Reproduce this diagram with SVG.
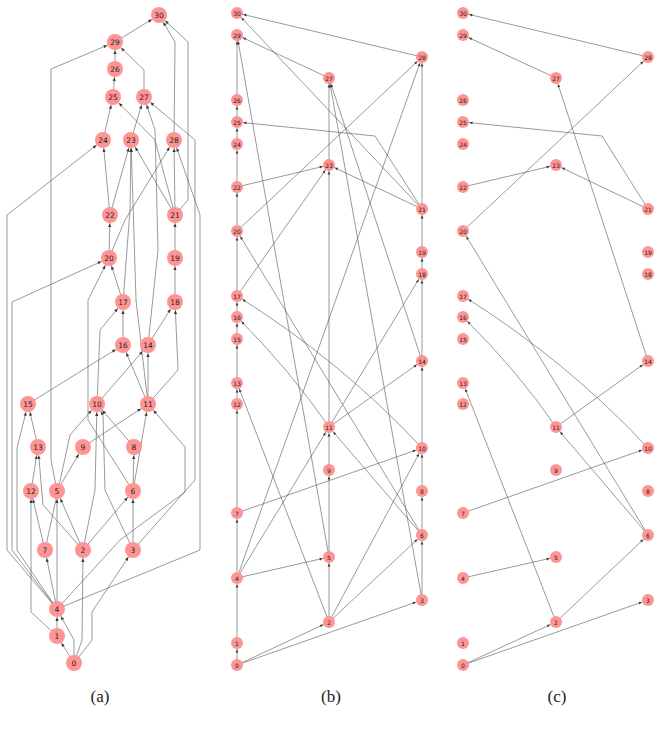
<svg xmlns="http://www.w3.org/2000/svg" width="660" height="738" viewBox="0 0 660 738">
<style>
.e{fill:none;stroke:#555;stroke-width:0.6}
.ea{marker-end:url(#ma)}
.eb{marker-end:url(#mb)}
.na circle{fill:#ff9494}
.nb circle{fill:#ff9494}
.na text{font-family:"DejaVu Sans",sans-serif;font-size:7.5px;fill:#222;text-anchor:middle;dominant-baseline:central}
.nb text{font-family:"DejaVu Sans",sans-serif;font-size:6px;fill:#222;text-anchor:middle;dominant-baseline:central}
.cap{font-family:"Liberation Serif",serif;font-size:17px;fill:#222;text-anchor:middle}
</style>
<defs>
<marker id="ma" markerUnits="userSpaceOnUse" markerWidth="1" markerHeight="1" orient="auto" overflow="visible"><path d="M-8.5,0 L-12,-1.6 L-12,1.6 z" fill="#333"/></marker>
<marker id="mb" markerUnits="userSpaceOnUse" markerWidth="1" markerHeight="1" orient="auto" overflow="visible"><path d="M-6.5,0 L-9.5,-1.4 L-9.5,1.4 z" fill="#333"/></marker>
</defs>
<rect width="660" height="738" fill="#fff"/>
<g id="connectors-a">
<polyline class="e ea" points="74,663 57,636"/>
<polyline class="e ea" points="74,663 74,640 57,609"/>
<polyline class="e ea" points="74,663 82,640 83,550"/>
<polyline class="e ea" points="74,663 92,640 92,612 133,550"/>
<polyline class="e ea" points="57,636 57,609"/>
<polyline class="e ea" points="57,636 31,612 31,491"/>
<polyline class="e ea" points="57,609 45,550"/>
<polyline class="e ea" points="57,609 57,491"/>
<polyline class="e ea" points="57,609 7,550 7,215 103,140"/>
<polyline class="e ea" points="57,609 12,550 12,302 109,258"/>
<polyline class="e ea" points="57,609 17,550 17,448 28,404"/>
<polyline class="e ea" points="57,609 120,540 185,492 185,447 148,404"/>
<polyline class="e ea" points="57,609 200,550 200,215 174,140"/>
<polyline class="e ea" points="83,550 57,491"/>
<polyline class="e ea" points="83,550 43,505 38,447"/>
<polyline class="e ea" points="83,550 95,490 97,404"/>
<polyline class="e ea" points="83,550 133,491"/>
<polyline class="e ea" points="133,550 133,491"/>
<polyline class="e ea" points="133,550 195,480 195,140 144,97"/>
<polyline class="e ea" points="133,550 105,490 103,415 97,404"/>
<polyline class="e ea" points="57,491 51,460 51,69 115,42"/>
<polyline class="e ea" points="57,491 83,447"/>
<polyline class="e ea" points="83,447 148,404"/>
<polyline class="e ea" points="133,491 134,447"/>
<polyline class="e ea" points="134,447 97,404"/>
<polyline class="e ea" points="133,491 148,404"/>
<polyline class="e ea" points="133,491 88,420 88,300 109,258"/>
<polyline class="e ea" points="45,550 31,491"/>
<polyline class="e ea" points="45,550 70,435 97,404"/>
<polyline class="e ea" points="31,491 38,447"/>
<polyline class="e ea" points="38,447 28,404"/>
<polyline class="e ea" points="28,404 123,345"/>
<polyline class="e ea" points="97,404 148,345"/>
<polyline class="e ea" points="97,404 100,330 123,302"/>
<polyline class="e ea" points="148,404 123,345"/>
<polyline class="e ea" points="148,404 148,345"/>
<polyline class="e ea" points="148,404 178,370 175,302"/>
<polyline class="e ea" points="148,404 136,300 131,140"/>
<polyline class="e ea" points="123,345 123,302"/>
<polyline class="e ea" points="148,345 158,250 155,130 144,97"/>
<polyline class="e ea" points="148,345 175,302"/>
<polyline class="e ea" points="175,302 175,258"/>
<polyline class="e ea" points="175,258 175,215"/>
<polyline class="e ea" points="123,302 109,258"/>
<polyline class="e ea" points="123,302 130,210 131,140"/>
<polyline class="e ea" points="109,258 110,215"/>
<polyline class="e ea" points="109,258 125,220 174,140"/>
<polyline class="e ea" points="110,215 103,140"/>
<polyline class="e ea" points="110,215 131,140"/>
<polyline class="e ea" points="175,215 174,140"/>
<polyline class="e ea" points="175,215 131,140"/>
<polyline class="e ea" points="175,215 155,140 113,97"/>
<polyline class="e ea" points="175,215 188,200 188,42 159,15"/>
<polyline class="e ea" points="174,140 175,42 159,15"/>
<polyline class="e ea" points="103,140 113,97"/>
<polyline class="e ea" points="131,140 144,97"/>
<polyline class="e ea" points="113,97 115,69"/>
<polyline class="e ea" points="115,69 115,42"/>
<polyline class="e ea" points="144,97 144,70 115,42"/>
<polyline class="e ea" points="115,42 159,15"/>
</g>
<g id="connectors-b">
<polyline class="e eb" points="237,665 237,643"/>
<polyline class="e eb" points="237,665 329,622"/>
<polyline class="e eb" points="237,665 422,600"/>
<polyline class="e eb" points="237,643 237,578"/>
<polyline class="e eb" points="237,578 237,513"/>
<polyline class="e eb" points="237,578 329,557"/>
<polyline class="e eb" points="237,578 329,427"/>
<polyline class="e eb" points="237,578 422,57"/>
<polyline class="e eb" points="329,622 329,557"/>
<polyline class="e eb" points="329,622 237,383"/>
<polyline class="e eb" points="329,622 422,448"/>
<polyline class="e eb" points="329,622 422,535"/>
<polyline class="e eb" points="422,600 422,535"/>
<polyline class="e eb" points="422,600 329,78"/>
<polyline class="e eb" points="329,557 237,35"/>
<polyline class="e eb" points="329,557 329,470"/>
<polyline class="e eb" points="329,470 329,427"/>
<polyline class="e eb" points="422,535 422,491"/>
<polyline class="e eb" points="422,491 422,448"/>
<polyline class="e eb" points="422,448 422,361"/>
<polyline class="e eb" points="422,361 422,274"/>
<polyline class="e eb" points="422,274 422,252"/>
<polyline class="e eb" points="422,252 422,209"/>
<polyline class="e eb" points="422,209 422,57"/>
<polyline class="e eb" points="422,209 329,165"/>
<polyline class="e eb" points="422,209 375,136 237,122"/>
<polyline class="e eb" points="422,209 237,13"/>
<polyline class="e eb" points="422,57 237,13"/>
<polyline class="e eb" points="329,78 237,35"/>
<polyline class="e eb" points="237,100 237,35"/>
<polyline class="e eb" points="237,122 237,100"/>
<polyline class="e eb" points="237,144 237,122"/>
<polyline class="e eb" points="237,187 237,144"/>
<polyline class="e eb" points="237,187 329,165"/>
<polyline class="e eb" points="237,231 237,187"/>
<polyline class="e eb" points="237,231 422,57"/>
<polyline class="e eb" points="237,296 237,231"/>
<polyline class="e eb" points="237,296 329,165"/>
<polyline class="e eb" points="237,317 237,296"/>
<polyline class="e eb" points="237,339 237,317"/>
<polyline class="e eb" points="237,383 237,339"/>
<polyline class="e eb" points="237,404 237,383"/>
<polyline class="e eb" points="237,513 237,404"/>
<polyline class="e eb" points="237,513 422,448"/>
<polyline class="e eb" points="329,427 329,165"/>
<polyline class="e eb" points="329,427 422,274"/>
<polyline class="e eb" points="329,427 422,361"/>
<path class="e eb" d="M329,427 Q290,370 237,317"/>
<path class="e eb" d="M422,448 Q340,360 237,296"/>
<polyline class="e eb" points="422,535 329,427"/>
<polyline class="e eb" points="422,535 237,231"/>
<polyline class="e eb" points="422,361 329,78"/>
<polyline class="e eb" points="329,165 329,78"/>
</g>
<g id="connectors-c">
<polyline class="e eb" points="463,665 556,622"/>
<polyline class="e eb" points="463,665 648,600"/>
<polyline class="e eb" points="463,578 556,557"/>
<polyline class="e eb" points="556,622 463,383"/>
<polyline class="e eb" points="556,622 648,535"/>
<polyline class="e eb" points="648,535 556,427"/>
<polyline class="e eb" points="648,535 463,231"/>
<polyline class="e eb" points="463,513 648,448"/>
<polyline class="e eb" points="556,427 648,361"/>
<path class="e eb" d="M556,427 Q517,370 463,317"/>
<path class="e eb" d="M648,448 Q566,360 463,296"/>
<polyline class="e eb" points="648,361 556,78"/>
<polyline class="e eb" points="648,209 556,165"/>
<polyline class="e eb" points="648,209 602,136 463,122"/>
<polyline class="e eb" points="463,187 556,165"/>
<polyline class="e eb" points="463,231 648,57"/>
<polyline class="e eb" points="556,78 463,35"/>
<polyline class="e eb" points="648,57 463,13"/>
</g>
<g id="nodes-a" class="na">
<g id="a0"><circle cx="74" cy="663" r="8"/><text x="74" y="663">0</text></g>
<g id="a1"><circle cx="57" cy="636" r="8"/><text x="57" y="636">1</text></g>
<g id="a4"><circle cx="57" cy="609" r="8"/><text x="57" y="609">4</text></g>
<g id="a7"><circle cx="45" cy="550" r="8"/><text x="45" y="550">7</text></g>
<g id="a2"><circle cx="83" cy="550" r="8"/><text x="83" y="550">2</text></g>
<g id="a3"><circle cx="133" cy="550" r="8"/><text x="133" y="550">3</text></g>
<g id="a12"><circle cx="31" cy="491" r="8"/><text x="31" y="491">12</text></g>
<g id="a5"><circle cx="57" cy="491" r="8"/><text x="57" y="491">5</text></g>
<g id="a6"><circle cx="133" cy="491" r="8"/><text x="133" y="491">6</text></g>
<g id="a13"><circle cx="38" cy="447" r="8"/><text x="38" y="447">13</text></g>
<g id="a9"><circle cx="83" cy="447" r="8"/><text x="83" y="447">9</text></g>
<g id="a8"><circle cx="134" cy="447" r="8"/><text x="134" y="447">8</text></g>
<g id="a15"><circle cx="28" cy="404" r="8"/><text x="28" y="404">15</text></g>
<g id="a10"><circle cx="97" cy="404" r="8"/><text x="97" y="404">10</text></g>
<g id="a11"><circle cx="148" cy="404" r="8"/><text x="148" y="404">11</text></g>
<g id="a16"><circle cx="123" cy="345" r="8"/><text x="123" y="345">16</text></g>
<g id="a14"><circle cx="148" cy="345" r="8"/><text x="148" y="345">14</text></g>
<g id="a17"><circle cx="123" cy="302" r="8"/><text x="123" y="302">17</text></g>
<g id="a18"><circle cx="175" cy="302" r="8"/><text x="175" y="302">18</text></g>
<g id="a20"><circle cx="109" cy="258" r="8"/><text x="109" y="258">20</text></g>
<g id="a19"><circle cx="175" cy="258" r="8"/><text x="175" y="258">19</text></g>
<g id="a22"><circle cx="110" cy="215" r="8"/><text x="110" y="215">22</text></g>
<g id="a21"><circle cx="175" cy="215" r="8"/><text x="175" y="215">21</text></g>
<g id="a24"><circle cx="103" cy="140" r="8"/><text x="103" y="140">24</text></g>
<g id="a23"><circle cx="131" cy="140" r="8"/><text x="131" y="140">23</text></g>
<g id="a28"><circle cx="174" cy="140" r="8"/><text x="174" y="140">28</text></g>
<g id="a25"><circle cx="113" cy="97" r="8"/><text x="113" y="97">25</text></g>
<g id="a27"><circle cx="144" cy="97" r="8"/><text x="144" y="97">27</text></g>
<g id="a26"><circle cx="115" cy="69" r="8"/><text x="115" y="69">26</text></g>
<g id="a29"><circle cx="115" cy="42" r="8"/><text x="115" y="42">29</text></g>
<g id="a30"><circle cx="159" cy="15" r="8"/><text x="159" y="15">30</text></g>
</g>
<g id="nodes-b" class="nb">
<g id="b30"><circle cx="237" cy="13" r="6"/><text x="237" y="13">30</text></g>
<g id="b29"><circle cx="237" cy="35" r="6"/><text x="237" y="35">29</text></g>
<g id="b28"><circle cx="422" cy="57" r="6"/><text x="422" y="57">28</text></g>
<g id="b27"><circle cx="329" cy="78" r="6"/><text x="329" y="78">27</text></g>
<g id="b26"><circle cx="237" cy="100" r="6"/><text x="237" y="100">26</text></g>
<g id="b25"><circle cx="237" cy="122" r="6"/><text x="237" y="122">25</text></g>
<g id="b24"><circle cx="237" cy="144" r="6"/><text x="237" y="144">24</text></g>
<g id="b23"><circle cx="329" cy="165" r="6"/><text x="329" y="165">23</text></g>
<g id="b22"><circle cx="237" cy="187" r="6"/><text x="237" y="187">22</text></g>
<g id="b21"><circle cx="422" cy="209" r="6"/><text x="422" y="209">21</text></g>
<g id="b20"><circle cx="237" cy="231" r="6"/><text x="237" y="231">20</text></g>
<g id="b19"><circle cx="422" cy="252" r="6"/><text x="422" y="252">19</text></g>
<g id="b18"><circle cx="422" cy="274" r="6"/><text x="422" y="274">18</text></g>
<g id="b17"><circle cx="237" cy="296" r="6"/><text x="237" y="296">17</text></g>
<g id="b16"><circle cx="237" cy="317" r="6"/><text x="237" y="317">16</text></g>
<g id="b15"><circle cx="237" cy="339" r="6"/><text x="237" y="339">15</text></g>
<g id="b14"><circle cx="422" cy="361" r="6"/><text x="422" y="361">14</text></g>
<g id="b13"><circle cx="237" cy="383" r="6"/><text x="237" y="383">13</text></g>
<g id="b12"><circle cx="237" cy="404" r="6"/><text x="237" y="404">12</text></g>
<g id="b11"><circle cx="329" cy="427" r="6"/><text x="329" y="427">11</text></g>
<g id="b10"><circle cx="422" cy="448" r="6"/><text x="422" y="448">10</text></g>
<g id="b9"><circle cx="329" cy="470" r="6"/><text x="329" y="470">9</text></g>
<g id="b8"><circle cx="422" cy="491" r="6"/><text x="422" y="491">8</text></g>
<g id="b7"><circle cx="237" cy="513" r="6"/><text x="237" y="513">7</text></g>
<g id="b6"><circle cx="422" cy="535" r="6"/><text x="422" y="535">6</text></g>
<g id="b5"><circle cx="329" cy="557" r="6"/><text x="329" y="557">5</text></g>
<g id="b4"><circle cx="237" cy="578" r="6"/><text x="237" y="578">4</text></g>
<g id="b3"><circle cx="422" cy="600" r="6"/><text x="422" y="600">3</text></g>
<g id="b2"><circle cx="329" cy="622" r="6"/><text x="329" y="622">2</text></g>
<g id="b1"><circle cx="237" cy="643" r="6"/><text x="237" y="643">1</text></g>
<g id="b0"><circle cx="237" cy="665" r="6"/><text x="237" y="665">0</text></g>
</g>
<g id="nodes-c" class="nb">
<g id="c30"><circle cx="463" cy="13" r="6"/><text x="463" y="13">30</text></g>
<g id="c29"><circle cx="463" cy="35" r="6"/><text x="463" y="35">29</text></g>
<g id="c28"><circle cx="648" cy="57" r="6"/><text x="648" y="57">28</text></g>
<g id="c27"><circle cx="556" cy="78" r="6"/><text x="556" y="78">27</text></g>
<g id="c26"><circle cx="463" cy="100" r="6"/><text x="463" y="100">26</text></g>
<g id="c25"><circle cx="463" cy="122" r="6"/><text x="463" y="122">25</text></g>
<g id="c24"><circle cx="463" cy="144" r="6"/><text x="463" y="144">24</text></g>
<g id="c23"><circle cx="556" cy="165" r="6"/><text x="556" y="165">23</text></g>
<g id="c22"><circle cx="463" cy="187" r="6"/><text x="463" y="187">22</text></g>
<g id="c21"><circle cx="648" cy="209" r="6"/><text x="648" y="209">21</text></g>
<g id="c20"><circle cx="463" cy="231" r="6"/><text x="463" y="231">20</text></g>
<g id="c19"><circle cx="648" cy="252" r="6"/><text x="648" y="252">19</text></g>
<g id="c18"><circle cx="648" cy="274" r="6"/><text x="648" y="274">18</text></g>
<g id="c17"><circle cx="463" cy="296" r="6"/><text x="463" y="296">17</text></g>
<g id="c16"><circle cx="463" cy="317" r="6"/><text x="463" y="317">16</text></g>
<g id="c15"><circle cx="463" cy="339" r="6"/><text x="463" y="339">15</text></g>
<g id="c14"><circle cx="648" cy="361" r="6"/><text x="648" y="361">14</text></g>
<g id="c13"><circle cx="463" cy="383" r="6"/><text x="463" y="383">13</text></g>
<g id="c12"><circle cx="463" cy="404" r="6"/><text x="463" y="404">12</text></g>
<g id="c11"><circle cx="556" cy="427" r="6"/><text x="556" y="427">11</text></g>
<g id="c10"><circle cx="648" cy="448" r="6"/><text x="648" y="448">10</text></g>
<g id="c9"><circle cx="556" cy="470" r="6"/><text x="556" y="470">9</text></g>
<g id="c8"><circle cx="648" cy="491" r="6"/><text x="648" y="491">8</text></g>
<g id="c7"><circle cx="463" cy="513" r="6"/><text x="463" y="513">7</text></g>
<g id="c6"><circle cx="648" cy="535" r="6"/><text x="648" y="535">6</text></g>
<g id="c5"><circle cx="556" cy="557" r="6"/><text x="556" y="557">5</text></g>
<g id="c4"><circle cx="463" cy="578" r="6"/><text x="463" y="578">4</text></g>
<g id="c3"><circle cx="648" cy="600" r="6"/><text x="648" y="600">3</text></g>
<g id="c2"><circle cx="556" cy="622" r="6"/><text x="556" y="622">2</text></g>
<g id="c1"><circle cx="463" cy="643" r="6"/><text x="463" y="643">1</text></g>
<g id="c0"><circle cx="463" cy="665" r="6"/><text x="463" y="665">0</text></g>
</g>
<text class="cap" x="100" y="702">(a)</text>
<text class="cap" x="331" y="702">(b)</text>
<text class="cap" x="557" y="702">(c)</text>
</svg>
